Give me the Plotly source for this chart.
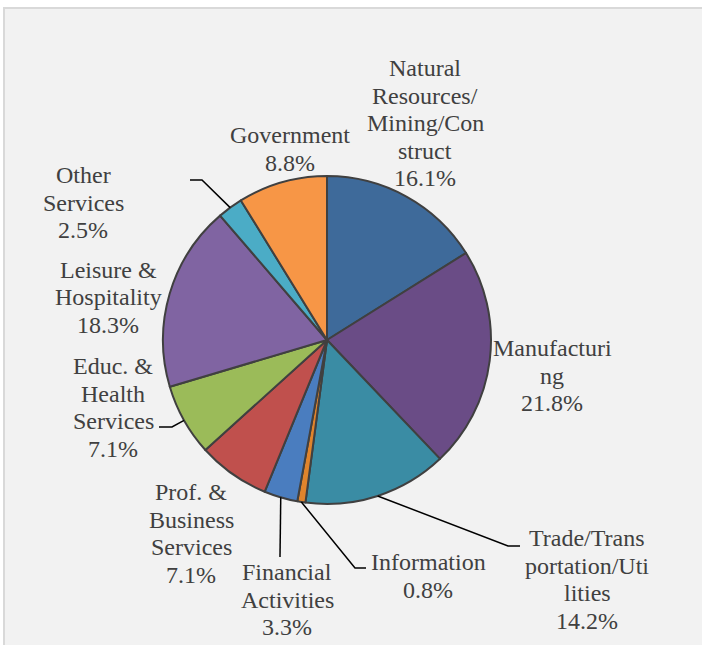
import math
import plotly.graph_objects as go

# ---- data ----
sectors = ["Natural Resources/Mining/Construct", "Manufacturing", "Trade/Transportation/Utilities",
           "Information", "Financial Activities", "Prof. & Business Services",
           "Educ. & Health Services", "Leisure & Hospitality", "Other Services", "Government"]
shares = [16.1, 21.8, 14.2, 0.8, 3.3, 7.1, 7.1, 18.3, 2.5, 8.8]
label_lines = [
    ["Natural", "Resources/", "Mining/Con", "struct"],
    ["Manufacturi", "ng"],
    ["Trade/Trans", "portation/Uti", "lities"],
    ["Information"],
    ["Financial", "Activities"],
    ["Prof. &", "Business", "Services"],
    ["Educ. &", "Health", "Services"],
    ["Leisure &", "Hospitality"],
    ["Other", "Services"],
    ["Government"],
]
colors = ["#3e6a9a", "#6a4c86", "#3a8ca4", "#e0842c", "#4a7dbf",
          "#c0504d", "#9bbb59", "#8064a2", "#4bacc6", "#f79646"]

# ---- layout (pixels) ----
W, H = 702, 645
CX, CY, R = 327, 340, 164
# label centre x and first-line centre y
label_pos = [(425, 68), (552, 348), (587, 538), (428, 562), (287, 572),
             (191, 492), (113, 366), (108, 270), (83, 175), (290, 135)]
LINE_H = 27.5
# leader line elbows (None = no leader)
leaders = [None, None, [(508, 546), (520, 546)], [(355, 568), (366, 568)],
           [(280, 557)], None, [(172, 427), (159, 427)], None,
           [(202, 180), (190, 180)], None]
FONT = "Liberation Serif, Times New Roman, serif"


def px(x):
    return x / W


def py(y):
    return 1 - y / H


fig = go.Figure(go.Pie(
    labels=sectors, values=shares, sort=False, direction="clockwise",
    rotation=0, textinfo="none", hoverinfo="label+percent",
    marker=dict(colors=colors, line=dict(color="#404040", width=2)),
    domain=dict(x=[px(CX - R), px(CX + R)], y=[py(CY + R), py(CY - R)]),
    showlegend=False,
))

shapes = [dict(type="rect", xref="paper", yref="paper", layer="below",
               x0=px(4), x1=px(W + 10), y0=py(H + 10), y1=py(8),
               fillcolor="#f2f2f2", line=dict(color="#d9d9d9", width=2))]

annotations = []
total = sum(shares)
cum = 0.0
for i, v in enumerate(shares):
    mid = (cum + v / 2) / total
    cum += v
    ang = 2 * math.pi * mid
    ax, ay = CX + R * math.sin(ang), CY - R * math.cos(ang)
    if leaders[i]:
        pts = [(ax, ay)] + leaders[i]
        path = "M " + " L ".join(f"{px(x)},{py(y)}" for x, y in pts)
        shapes.append(dict(type="path", xref="paper", yref="paper", path=path,
                           line=dict(color="#000000", width=1.5), layer="above"))
    lx, ly = label_pos[i]
    lines = label_lines[i] + [f"{v:.1f}%"]
    for k, t in enumerate(lines):
        annotations.append(dict(text=t, x=px(lx), y=py(ly + k * LINE_H),
                                xref="paper", yref="paper", showarrow=False,
                                xanchor="center", yanchor="middle",
                                font=dict(family=FONT, size=24, color="#404040")))

fig.update_layout(width=W, height=H, margin=dict(l=0, r=0, t=0, b=0),
                  paper_bgcolor="white", shapes=shapes, annotations=annotations,
                  font=dict(family=FONT))
fig.write_html("out.html", config={"displayModeBar": False},
               post_script="document.body.style.margin='0';document.body.style.overflow='hidden';")
